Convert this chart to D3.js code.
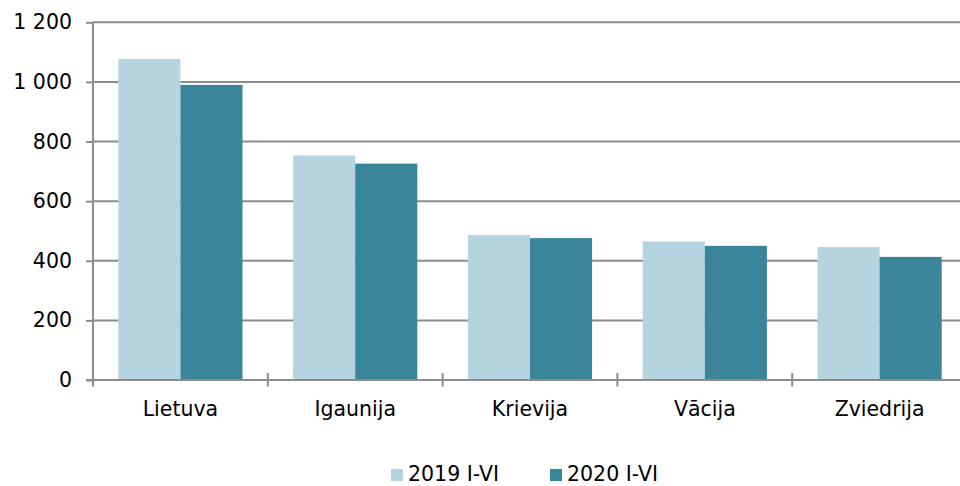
<!DOCTYPE html>
<html><head><meta charset="utf-8">
<script src="https://cdn.jsdelivr.net/npm/d3@7"></script>
<style>
html,body{margin:0;padding:0;background:#fff;overflow:hidden}
text{font-family:"DejaVu Sans",Verdana,sans-serif;fill:#000}
</style></head>
<body><svg id="c" width="960" height="486"></svg>
<script>
const categories = ["Lietuva","Igaunija","Krievija","Vācija","Zviedrija"];
const seriesNames = ["2019 I-VI","2020 I-VI"];
const values2019 = [1077, 753, 486, 465, 446];
const values2020 = [990, 726, 476, 450, 413];
const yTicks = [0,200,400,600,800,1000,1200];
const colors = ["#b6d4df","#3a8599"];

const svg = d3.select("#c");
const L = 93, R = 967, T = 22.3, B = 380;
const FS = "20.5px";
const x0 = d3.scaleBand().domain(categories).range([L,R]).padding(0);
const x1 = d3.scaleBand().domain(seriesNames).range([25.3, x0.bandwidth()-25.3]).padding(0);
const y = d3.scaleLinear().domain([0,1200]).range([B,T]);
const fmt = v => d3.format(",")(v).replace(/,/g," ");

// gridlines
svg.append("g").selectAll("line").data(yTicks.filter(d=>d>0)).join("line")
  .attr("x1",L).attr("x2",R).attr("y1",d=>y(d)).attr("y2",d=>y(d))
  .attr("stroke","#8c8c8c").attr("stroke-width",2);

// bars
const data = categories.map((c,i)=>({c, vals:[values2019[i], values2020[i]]}));
const g = svg.append("g").selectAll("g").data(data).join("g")
  .attr("transform",d=>`translate(${x0(d.c)},0)`);
g.selectAll("rect").data(d=>d.vals.map((v,j)=>({s:seriesNames[j],v,j}))).join("rect")
  .attr("x",d=>x1(d.s)).attr("width",x1.bandwidth())
  .attr("y",d=>y(d.v)).attr("height",d=>B-y(d.v))
  .attr("fill",d=>colors[d.j]);

// y axis
const ya = svg.append("g").attr("transform",`translate(${L},0)`)
  .call(d3.axisLeft(y).tickValues(yTicks).tickFormat(fmt).tickSize(7).tickPadding(14));
ya.select(".domain").attr("stroke","#8c8c8c").attr("stroke-width",2).attr("d",`M0,${T}V${B}`);
ya.selectAll(".tick line").attr("stroke","#8c8c8c").attr("stroke-width",2);
ya.selectAll(".tick text").attr("font-size",FS).attr("fill","#000");

// x axis
const xa = svg.append("g");
xa.append("line").attr("x1",L-7).attr("x2",R).attr("y1",B).attr("y2",B)
  .attr("stroke","#8c8c8c").attr("stroke-width",2);
const bounds = categories.map(c=>x0(c)).concat([R]);
xa.selectAll("line.t").data(bounds).join("line").attr("class","t")
  .attr("x1",d=>d).attr("x2",d=>d).attr("y1",B-7).attr("y2",B+6.5)
  .attr("stroke","#8c8c8c").attr("stroke-width",2);
xa.selectAll("text").data(categories).join("text")
  .attr("x",d=>x0(d)+x0.bandwidth()/2).attr("y",415.5)
  .attr("text-anchor","middle").attr("font-size",FS).text(d=>d);

// legend
const legX = [391, 550];
const lg = svg.append("g").selectAll("g").data(seriesNames).join("g")
  .attr("transform",(d,i)=>`translate(${legX[i]},469)`);
lg.append("rect").attr("width",12).attr("height",12).attr("fill",(d,i)=>colors[i]);
lg.append("text").attr("x",17).attr("y",11.5).attr("font-size",FS).text(d=>d);
</script></body></html>
